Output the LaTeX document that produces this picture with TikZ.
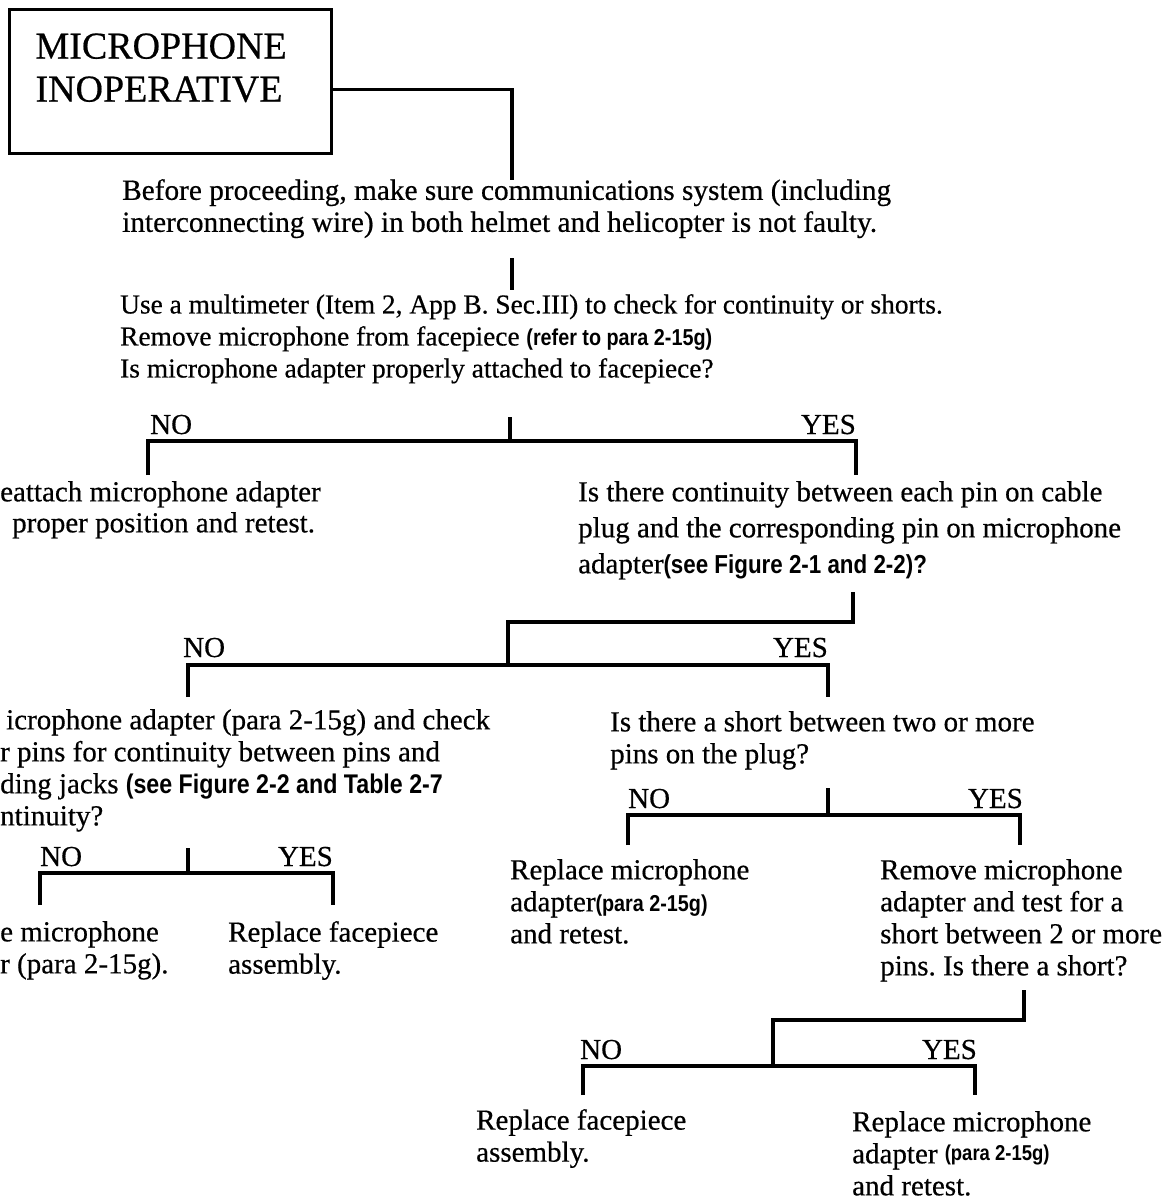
\documentclass[tikz,border=0pt]{standalone}
\usepackage{fontspec}
\usetikzlibrary{calc}
\setmainfont{Liberation Serif}[FakeBold=0.5]
\newfontfamily\sansfam{Liberation Sans}
\newcommand{\ssf}[2][23]{\scalebox{0.86}[1]{\sansfam\bfseries\fontsize{#1}{32}\selectfont #2}}
\begin{document}
\frenchspacing
\begin{tikzpicture}[x=1pt,y=-1pt,
  txt/.style={inner sep=0pt, anchor=north west, align=left, font=\fontsize{29}{32}\selectfont},
  lblno/.style={inner sep=0pt, anchor=base west, font=\fontsize{29}{32}\selectfont},
  lblyes/.style={inner sep=0pt, anchor=base east, font=\fontsize{29}{32}\selectfont},
  wire/.style={line width=3.5pt, line join=miter},
  titlebox/.style={draw, line width=3pt, anchor=north west, minimum width=322pt, minimum height=144pt, inner xsep=26pt, inner ysep=0pt, text width=270pt, align=left, font=\fontsize{38}{43}\selectfont}
]
\useasboundingbox (0,0) rectangle (1170,1201);
\fill[white] (0,0) rectangle (1170,1201);

% title
\node[titlebox] (title) at (8,8) {MICROPHONE\\INOPERATIVE\\[-15pt]\mbox{}};
\coordinate (c0s) at ($(title.east)+(0,8)$);
\coordinate (c0a) at (512,180);
\draw[wire] (c0s) -| (c0a);

% first note
\node[txt, font=\fontsize{29.3}{32}\selectfont] (t1) at (122,179) {Before proceeding, make sure communications system (including\\interconnecting wire) in both helmet and helicopter is not faulty.};
\coordinate (s1a) at (512,258);
\coordinate (s1b) at (512,290);
\draw[wire] (s1a) -- (s1b);

% second note
\node[txt, font=\fontsize{27.4}{32}\selectfont] (t2) at (120,294) {Use a multimeter (Item 2, App B. Sec.III) to check for continuity or shorts.\\Remove microphone from facepiece \ssf{(refer to para 2-15g)}\\Is microphone adapter properly attached to facepiece?};

% decision 1
\node[lblno] (no1) at (150,434) {NO};
\node[lblyes] (yes1) at (856,434) {YES};
\coordinate (b1top) at (510,417);
\coordinate (b1mid) at (510,441);
\coordinate (b1no) at (148,475);
\coordinate (b1yes) at (856,475);
\draw[wire] (b1top) -- (b1mid);
\draw[wire] (b1no) |- (b1mid) -| (b1yes);

\node[txt] (a1) at (0,481) {eattach microphone adapter};
\node[txt] (a2) at (12,512) {proper position and retest.};

\node[txt, font=\fontsize{29}{36}\selectfont] (b) at (578,481) {Is there continuity between each pin on cable\\plug and the corresponding pin on microphone\\adapter\ssf[26]{(see Figure 2-1 and 2-2)?}};

% decision 2
\coordinate (b2top) at (853,592);
\coordinate (b2knee) at (508,622);
\coordinate (b2mid) at (508,665);
\coordinate (b2no) at (188,697);
\coordinate (b2yes) at (828,697);
\draw[wire] (b2top) |- (b2knee) -- (b2mid);
\draw[wire] (b2no) |- (b2mid) -| (b2yes);
\node[lblno] (no2) at (183,657) {NO};
\node[lblyes] (yes2) at (828,657) {YES};

\node[txt] (c) at (0,709) {\hspace*{6pt}icrophone adapter (para 2-15g) and check\\r pins for continuity between pins and\\ding jacks \ssf[27]{(see Figure 2-2 and Table 2-7}\\ntinuity?};

% decision 3
\coordinate (b3top) at (188,848);
\coordinate (b3mid) at (188,873);
\coordinate (b3no) at (40,905);
\coordinate (b3yes) at (333,905);
\draw[wire] (b3top) -- (b3mid);
\draw[wire] (b3no) |- (b3mid) -| (b3yes);
\node[lblno] (no3) at (40,866) {NO};
\node[lblyes] (yes3) at (333,866) {YES};

\node[txt] (l1) at (0,921) {e microphone\\r (para 2-15g).};
\node[txt] (l2) at (228,921) {Replace facepiece\\assembly.};

\node[txt] (d) at (610,711) {Is there a short between two or more\\pins on the plug?};

% decision 4
\coordinate (b4top) at (828,788);
\coordinate (b4mid) at (828,815);
\coordinate (b4no) at (628,845);
\coordinate (b4yes) at (1020,845);
\draw[wire] (b4top) -- (b4mid);
\draw[wire] (b4no) |- (b4mid) -| (b4yes);
\node[lblno] (no4) at (628,808) {NO};
\node[lblyes] (yes4) at (1023,808) {YES};

\node[txt] (e) at (510,859) {Replace microphone\\adapter\ssf{(para 2-15g)}\\and retest.};
\node[txt] (f) at (880,859) {Remove microphone\\adapter and test for a\\short between 2 or more\\pins. Is there a short?};

% decision 5
\coordinate (b5top) at (1024,990);
\coordinate (b5knee) at (773,1020);
\coordinate (b5mid) at (773,1066);
\coordinate (b5no) at (583,1095);
\coordinate (b5yes) at (975,1095);
\draw[wire] (b5top) |- (b5knee) -- (b5mid);
\draw[wire] (b5no) |- (b5mid) -| (b5yes);
\node[lblno] (no5) at (580,1059) {NO};
\node[lblyes] (yes5) at (977,1059) {YES};

\node[txt] (g) at (476,1109) {Replace facepiece\\assembly.};
\node[txt] (h) at (852,1111) {Replace microphone\\adapter \raisebox{3pt}{\ssf[21.5]{(para 2-15g)}}\\and retest.};
\end{tikzpicture}
\end{document}
